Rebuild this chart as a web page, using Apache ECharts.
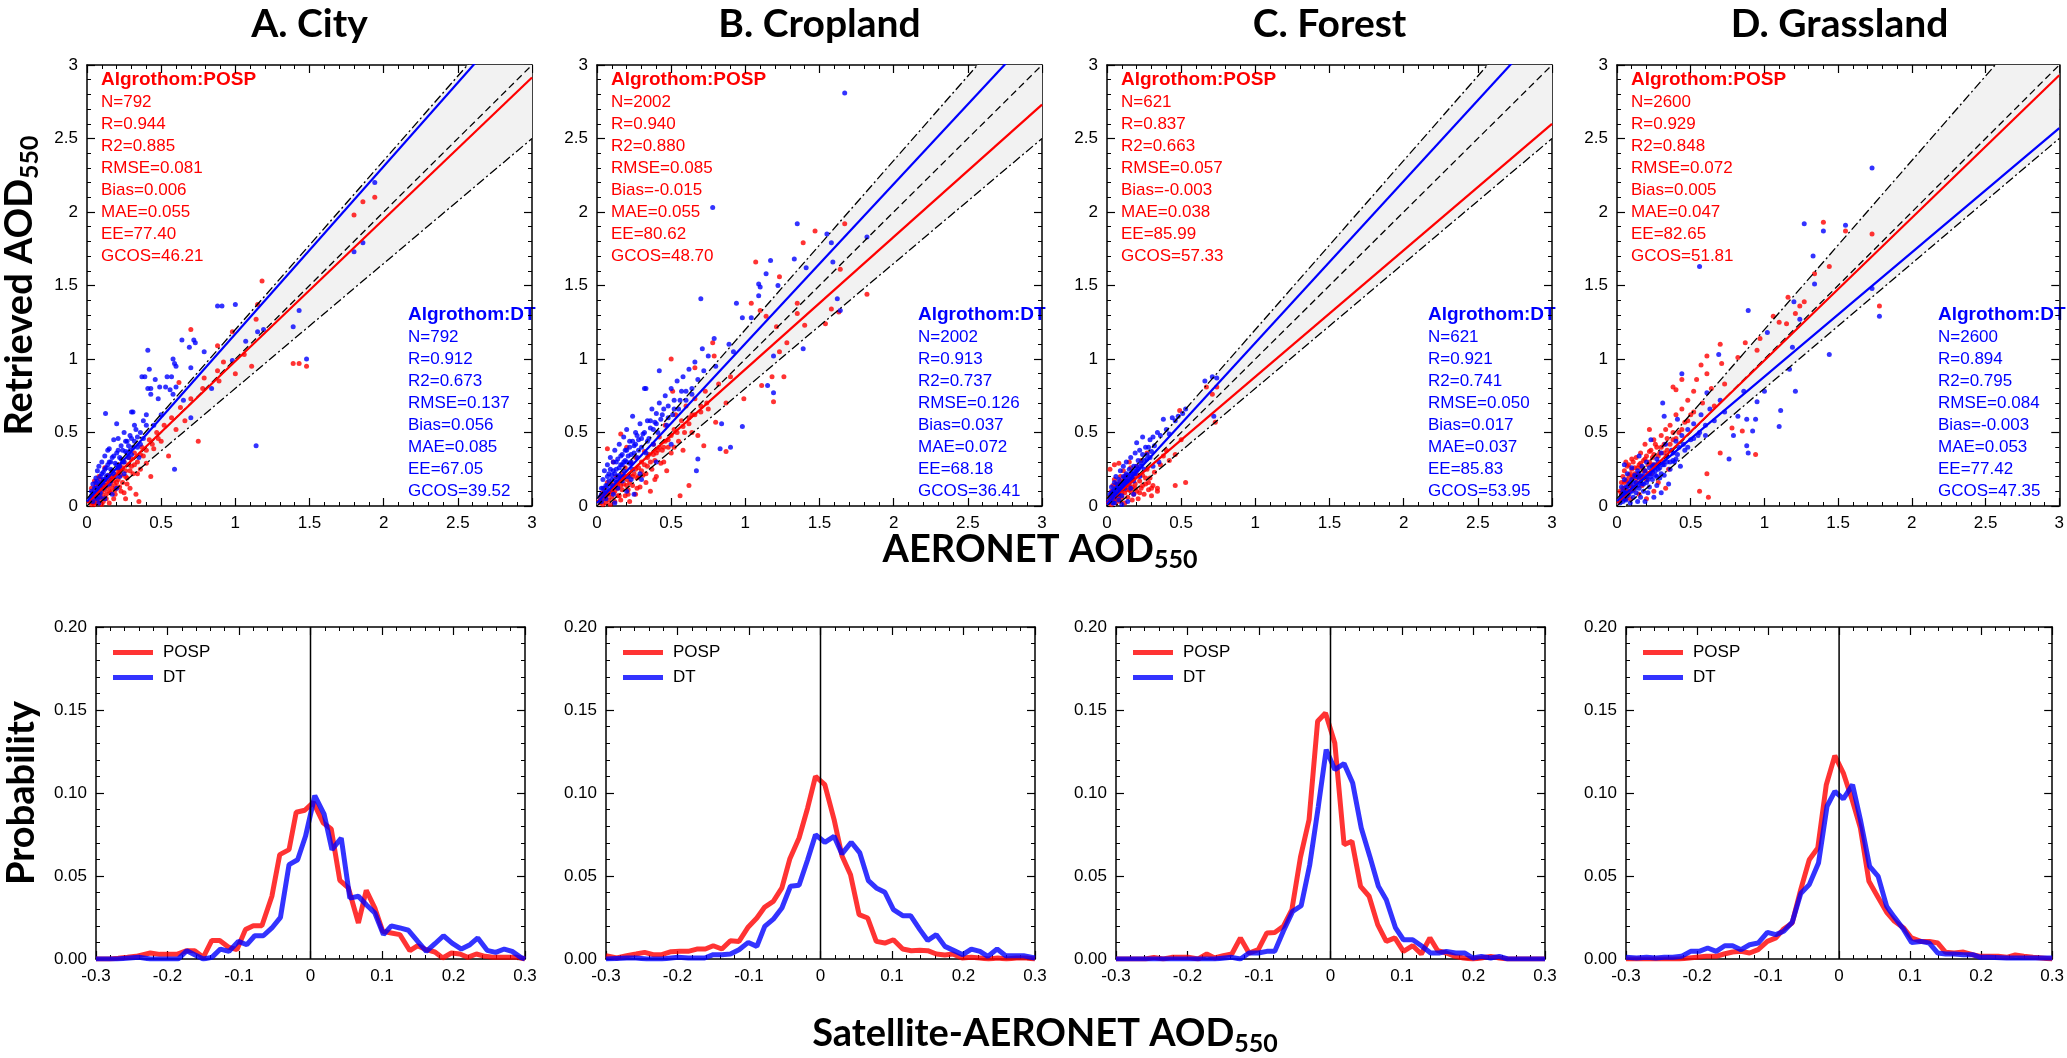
<!DOCTYPE html>
<html>
<head>
<meta charset="utf-8">
<script src="https://cdn.jsdelivr.net/npm/echarts@6.0.0/dist/echarts.min.js"></script>
<style>
  html, body { margin: 0; padding: 0; background: #fff; }
  #main { width: 2067px; height: 1058px; }
</style>
</head>
<body>
<div id="main"></div>
<script>
// ---- data ----
const panelTitles = ['A. City', 'B. Cropland', 'C. Forest', 'D. Grassland']
const statLabels = ['N', 'R', 'R2', 'RMSE', 'Bias', 'MAE', 'EE', 'GCOS']
const pospStats = [
  ['792', '0.944', '0.885', '0.081', '0.006', '0.055', '77.40', '46.21'],
  ['2002', '0.940', '0.880', '0.085', '-0.015', '0.055', '80.62', '48.70'],
  ['621', '0.837', '0.663', '0.057', '-0.003', '0.038', '85.99', '57.33'],
  ['2600', '0.929', '0.848', '0.072', '0.005', '0.047', '82.65', '51.81'],
]
const dtStats = [
  ['792', '0.912', '0.673', '0.137', '0.056', '0.085', '67.05', '39.52'],
  ['2002', '0.913', '0.737', '0.126', '0.037', '0.072', '68.18', '36.41'],
  ['621', '0.921', '0.741', '0.050', '0.017', '0.037', '85.83', '53.95'],
  ['2600', '0.894', '0.795', '0.084', '-0.003', '0.053', '77.42', '47.35'],
]
// regression lines: [slope, intercept]
const pospFit = [[0.965, 0.02], [0.90, 0.03], [0.86, 0.02], [0.97, 0.02]]
const dtFit = [[1.14, 0.03], [1.085, 0.02], [1.10, 0.01], [0.845, 0.035]]
// expected error envelope +-(0.05 + 0.15*AOD)
const eeAbs = 0.05
const eeRel = 0.15

const cityPosp = [[0.02,0.03],[0.03,0.01],[0.04,0.06],[0.05,0.03],[0.05,0.09],[0.06,0.05],[0.07,0.02],[0.07,0.11],[0.08,0.07],[0.09,0.04],[0.09,0.13],[0.10,0.09],[0.11,0.06],[0.11,0.15],[0.12,0.11],[0.13,0.08],[0.13,0.18],[0.14,0.13],[0.15,0.10],[0.15,0.21],[0.16,0.15],[0.17,0.12],[0.17,0.24],[0.18,0.17],[0.19,0.14],[0.19,0.08],[0.20,0.22],[0.21,0.18],[0.22,0.13],[0.22,0.28],[0.23,0.21],[0.24,0.16],[0.25,0.30],[0.25,0.09],[0.26,0.24],[0.27,0.19],[0.28,0.33],[0.29,0.12],[0.30,0.27],[0.31,0.22],[0.32,0.36],[0.33,0.08],[0.34,0.30],[0.35,0.03],[0.36,0.25],[0.37,0.40],[0.38,0.34],[0.40,0.29],[0.42,0.45],[0.43,0.20],[0.45,0.39],[0.47,0.50],[0.50,0.44],[0.52,0.55],[0.55,0.34],[0.57,0.60],[0.60,0.52],[0.63,0.67],[0.66,0.58],[0.70,0.73],[0.75,0.44],[0.78,0.80],[0.62,0.84],[0.70,1.20],[0.79,0.87],[0.88,0.92],[0.89,0.85],[0.92,0.98],[0.88,1.09],[0.98,1.185],[1.00,0.90],[1.06,1.03],[1.11,0.95],[1.14,1.27],[1.15,1.37],[1.18,1.53],[1.39,0.97],[1.43,0.97],[1.48,0.95],[1.80,1.98],[1.86,2.07],[1.94,2.10],[0.08,0.20],[0.05,0.17],[0.12,0.26],[0.03,0.12],[0.18,0.05],[0.15,0.02],[0.26,0.05],[0.10,0.01],
  [0.03,0.05],[0.04,0.02],[0.06,0.08],[0.08,0.10],[0.10,0.12],[0.12,0.14],[0.14,0.16],[0.16,0.18],[0.18,0.20],[0.20,0.16],[0.22,0.24],[0.24,0.26],[0.26,0.20],[0.28,0.28],[0.30,0.32],[0.06,0.14],[0.09,0.18],[0.11,0.03],[0.13,0.05],[0.16,0.09],[0.19,0.11],[0.21,0.25],[0.23,0.10],[0.27,0.15],[0.29,0.24],[0.32,0.28],[0.34,0.22],[0.36,0.35],[0.40,0.38],[0.44,0.42],[0.48,0.46],[0.05,0.01],[0.07,0.13],[0.14,0.20],[0.17,0.19]]
const cityDt = [[0.02,0.05],[0.03,0.10],[0.04,0.03],[0.04,0.15],[0.05,0.08],[0.06,0.19],[0.06,0.12],[0.07,0.05],[0.07,0.24],[0.08,0.14],[0.08,0.27],[0.09,0.09],[0.09,0.20],[0.10,0.16],[0.10,0.30],[0.11,0.12],[0.11,0.23],[0.12,0.18],[0.12,0.34],[0.125,0.63],[0.13,0.26],[0.13,0.14],[0.14,0.21],[0.14,0.38],[0.15,0.30],[0.15,0.39],[0.16,0.17],[0.16,0.25],[0.17,0.33],[0.18,0.22],[0.18,0.45],[0.19,0.29],[0.20,0.56],[0.20,0.36],[0.21,0.26],[0.21,0.46],[0.22,0.33],[0.23,0.41],[0.24,0.30],[0.25,0.50],[0.26,0.37],[0.27,0.44],[0.28,0.33],[0.29,0.48],[0.30,0.64],[0.31,0.40],[0.31,0.64],[0.32,0.55],[0.33,0.52],[0.34,0.47],[0.36,0.42],[0.37,0.88],[0.38,0.58],[0.39,0.88],[0.40,0.62],[0.41,1.06],[0.41,0.80],[0.42,0.93],[0.43,0.76],[0.43,0.80],[0.45,0.55],[0.46,0.86],[0.48,0.73],[0.49,0.81],[0.50,0.62],[0.53,0.81],[0.54,0.88],[0.56,0.79],[0.57,0.88],[0.58,0.76],[0.58,1.0],[0.59,0.25],[0.59,0.97],[0.60,0.95],[0.60,0.81],[0.64,1.13],[0.65,0.72],[0.69,1.08],[0.70,0.94],[0.70,0.60],[0.72,1.13],[0.73,1.11],[0.79,1.05],[0.84,0.80],[0.88,1.36],[0.91,1.36],[0.98,0.99],[1.0,1.37],[1.07,1.12],[1.14,0.41],[1.15,1.185],[1.19,1.20],[1.39,1.22],[1.43,1.33],[1.48,1.00],[1.80,1.73],[1.86,1.79],[1.94,2.20],[0.30,0.35],[0.25,0.22],[0.35,0.33],[0.20,0.12],[0.17,0.08],[0.12,0.05],[0.22,0.20],[0.08,0.02],
  [0.03,0.07],[0.05,0.12],[0.06,0.06],[0.07,0.17],[0.08,0.10],[0.09,0.15],[0.10,0.22],[0.11,0.18],[0.12,0.25],[0.13,0.20],[0.14,0.28],[0.15,0.15],[0.16,0.30],[0.17,0.24],[0.18,0.34],[0.19,0.20],[0.20,0.28],[0.21,0.38],[0.22,0.27],[0.23,0.32],[0.24,0.38],[0.25,0.30],[0.26,0.44],[0.27,0.36],[0.28,0.41],[0.29,0.38],[0.30,0.46],[0.32,0.44],[0.34,0.40],[0.36,0.50],[0.38,0.46],[0.40,0.55],[0.04,0.09],[0.06,0.16],[0.09,0.06]]
const croplandPosp = [[0.02,0.02],[0.03,0.07],[0.04,0.01],[0.05,0.05],[0.05,0.12],[0.06,0.02],[0.07,0.08],[0.07,0.16],[0.08,0.04],[0.09,0.10],[0.09,0.01],[0.10,0.06],[0.10,0.15],[0.11,0.09],[0.12,0.03],[0.12,0.13],[0.13,0.20],[0.14,0.07],[0.14,0.12],[0.15,0.17],[0.16,0.04],[0.16,0.49],[0.17,0.11],[0.17,0.22],[0.18,0.15],[0.19,0.07],[0.19,0.26],[0.20,0.18],[0.21,0.11],[0.22,0.21],[0.22,0.03],[0.23,0.29],[0.24,0.14],[0.25,0.22],[0.26,0.08],[0.26,0.33],[0.27,0.19],[0.28,0.26],[0.29,0.13],[0.30,0.30],[0.31,0.21],[0.32,0.37],[0.33,0.16],[0.34,0.27],[0.35,0.35],[0.36,0.10],[0.37,0.25],[0.38,0.42],[0.39,0.31],[0.40,0.20],[0.41,0.38],[0.42,0.47],[0.43,0.29],[0.45,0.40],[0.46,0.55],[0.47,0.24],[0.48,0.45],[0.50,0.36],[0.50,1.00],[0.51,0.78],[0.52,0.52],[0.53,0.62],[0.55,0.44],[0.56,0.07],[0.57,0.58],[0.59,0.50],[0.60,0.68],[0.62,0.14],[0.62,0.56],[0.64,0.62],[0.66,0.94],[0.66,0.73],[0.68,0.48],[0.70,0.64],[0.72,0.41],[0.73,0.78],[0.75,0.66],[0.78,1.11],[0.79,1.02],[0.80,0.57],[0.82,0.83],[0.87,0.70],[0.87,0.37],[0.90,0.88],[0.99,0.73],[1.04,1.38],[1.07,1.66],[1.10,1.33],[1.11,0.82],[1.14,1.29],[1.18,0.88],[1.19,0.71],[1.21,1.22],[1.23,1.56],[1.23,1.05],[1.26,0.88],[1.28,1.11],[1.35,1.38],[1.35,1.31],[1.39,1.79],[1.40,1.23],[1.47,1.87],[1.54,1.24],[1.58,1.34],[1.63,1.32],[1.64,1.61],[1.67,1.92],[1.82,1.44],[0.07,0.39],[0.11,0.30],[0.20,0.40],
  [0.03,0.04],[0.04,0.09],[0.06,0.06],[0.08,0.08],[0.10,0.10],[0.12,0.10],[0.14,0.15],[0.16,0.14],[0.18,0.19],[0.20,0.14],[0.22,0.16],[0.24,0.20],[0.26,0.25],[0.28,0.20],[0.30,0.24],[0.32,0.28],[0.34,0.33],[0.36,0.30],[0.38,0.35],[0.40,0.36],[0.42,0.40],[0.44,0.38],[0.46,0.44],[0.48,0.40],[0.50,0.48],[0.54,0.50],[0.58,0.54],[0.62,0.60],[0.66,0.62],[0.70,0.68],[0.74,0.70],[0.15,0.07],[0.21,0.08],[0.27,0.12],[0.33,0.22],[0.39,0.18],[0.45,0.30],[0.52,0.40],[0.58,0.38],[0.64,0.50]]
const croplandDt = [[0.02,0.06],[0.03,0.12],[0.03,0.03],[0.04,0.18],[0.05,0.09],[0.05,0.24],[0.06,0.14],[0.06,0.05],[0.07,0.20],[0.07,0.28],[0.08,0.11],[0.08,0.17],[0.09,0.25],[0.09,0.33],[0.10,0.14],[0.10,0.21],[0.11,0.30],[0.11,0.08],[0.12,0.18],[0.12,0.38],[0.13,0.25],[0.14,0.32],[0.14,0.12],[0.15,0.21],[0.15,0.42],[0.16,0.28],[0.17,0.35],[0.17,0.17],[0.18,0.24],[0.18,0.47],[0.19,0.31],[0.20,0.38],[0.20,0.52],[0.21,0.20],[0.22,0.29],[0.22,0.44],[0.23,0.35],[0.24,0.61],[0.24,0.25],[0.25,0.41],[0.26,0.50],[0.27,0.33],[0.28,0.45],[0.29,0.56],[0.29,0.22],[0.30,0.40],[0.31,0.49],[0.32,0.80],[0.33,0.80],[0.33,0.36],[0.34,0.58],[0.35,0.46],[0.36,0.53],[0.37,0.66],[0.38,0.42],[0.39,0.57],[0.40,0.63],[0.41,0.50],[0.42,0.92],[0.42,0.70],[0.43,0.59],[0.45,0.66],[0.46,0.75],[0.47,0.55],[0.48,0.68],[0.50,0.80],[0.51,0.62],[0.52,0.72],[0.54,0.85],[0.55,0.66],[0.57,0.78],[0.58,0.88],[0.60,0.72],[0.62,0.93],[0.64,0.80],[0.66,0.98],[0.67,0.24],[0.68,0.32],[0.68,0.86],[0.70,1.41],[0.71,1.07],[0.72,0.92],[0.75,1.02],[0.78,2.03],[0.79,1.14],[0.80,0.95],[0.83,0.39],[0.84,0.56],[0.89,1.10],[0.90,0.40],[0.92,1.05],[0.94,1.38],[0.98,0.54],[0.98,1.28],[1.04,1.28],[1.09,1.43],[1.09,1.51],[1.10,1.49],[1.14,1.58],[1.15,0.82],[1.17,1.67],[1.19,1.02],[1.19,0.77],[1.22,1.50],[1.33,1.68],[1.35,1.92],[1.39,1.07],[1.41,1.62],[1.55,1.85],[1.58,1.79],[1.59,1.66],[1.62,1.41],[1.64,1.33],[1.67,2.81],[1.82,1.83],[0.20,0.10],[0.30,0.18],[0.40,0.30],[0.50,0.42],[0.12,0.02],[0.25,0.08],
  [0.03,0.08],[0.04,0.12],[0.06,0.10],[0.07,0.14],[0.08,0.22],[0.10,0.18],[0.11,0.24],[0.12,0.22],[0.13,0.30],[0.14,0.20],[0.15,0.26],[0.16,0.34],[0.17,0.28],[0.18,0.30],[0.19,0.38],[0.20,0.30],[0.21,0.34],[0.22,0.40],[0.23,0.30],[0.24,0.44],[0.25,0.36],[0.26,0.42],[0.27,0.48],[0.28,0.38],[0.30,0.46],[0.32,0.50],[0.34,0.44],[0.36,0.58],[0.38,0.52],[0.40,0.56],[0.44,0.62],[0.48,0.60],[0.52,0.66],[0.56,0.72],[0.60,0.78],[0.64,0.76],[0.13,0.16],[0.19,0.20],[0.23,0.18]]
const forestPosp = [[0.01,0.02],[0.02,0.06],[0.02,0.25],[0.03,0.01],[0.03,0.10],[0.04,0.04],[0.04,0.14],[0.05,0.07],[0.05,0.18],[0.06,0.02],[0.06,0.11],[0.07,0.05],[0.07,0.15],[0.08,0.29],[0.08,0.09],[0.09,0.03],[0.09,0.20],[0.10,0.12],[0.10,0.06],[0.11,0.17],[0.11,0.24],[0.12,0.09],[0.12,0.02],[0.13,0.14],[0.13,0.21],[0.14,0.06],[0.15,0.11],[0.15,0.18],[0.16,0.26],[0.17,0.13],[0.17,0.04],[0.18,0.08],[0.18,0.20],[0.19,0.15],[0.20,0.10],[0.20,0.27],[0.21,0.05],[0.22,0.17],[0.23,0.31],[0.23,0.12],[0.24,0.21],[0.25,0.08],[0.26,0.15],[0.27,0.25],[0.28,0.11],[0.29,0.19],[0.30,0.07],[0.31,0.14],[0.32,0.23],[0.34,0.10],[0.34,0.12],[0.36,0.28],[0.38,0.34],[0.40,0.38],[0.42,0.31],[0.46,0.35],[0.46,0.14],[0.49,0.65],[0.50,0.45],[0.53,0.16],[0.67,0.81],[0.71,0.76],[0.73,0.57],[0.74,0.81],[0.27,0.36],[0.05,0.28],[0.15,0.30],
  [0.02,0.04],[0.03,0.07],[0.04,0.09],[0.05,0.04],[0.06,0.08],[0.07,0.12],[0.08,0.06],[0.09,0.11],[0.10,0.09],[0.11,0.13],[0.12,0.15],[0.13,0.11],[0.14,0.17],[0.15,0.14],[0.16,0.10],[0.17,0.18],[0.19,0.12],[0.21,0.21],[0.22,0.09],[0.24,0.14],[0.26,0.19],[0.28,0.16],[0.30,0.12],[0.06,0.15],[0.09,0.17],[0.12,0.20]]
const forestDt = [[0.01,0.03],[0.02,0.08],[0.03,0.05],[0.03,0.13],[0.04,0.02],[0.04,0.10],[0.05,0.16],[0.05,0.06],[0.06,0.12],[0.06,0.20],[0.07,0.08],[0.07,0.15],[0.08,0.04],[0.08,0.18],[0.09,0.11],[0.09,0.24],[0.10,0.15],[0.10,0.07],[0.11,0.20],[0.11,0.27],[0.12,0.12],[0.12,0.17],[0.13,0.22],[0.13,0.30],[0.14,0.15],[0.14,0.03],[0.15,0.25],[0.15,0.19],[0.16,0.33],[0.16,0.12],[0.17,0.22],[0.18,0.27],[0.18,0.17],[0.19,0.36],[0.20,0.43],[0.20,0.24],[0.21,0.31],[0.22,0.20],[0.22,0.38],[0.23,0.29],[0.24,0.47],[0.24,0.35],[0.25,0.25],[0.26,0.40],[0.27,0.32],[0.28,0.40],[0.29,0.45],[0.30,0.37],[0.31,0.47],[0.31,0.27],[0.32,0.41],[0.34,0.50],[0.35,0.30],[0.36,0.48],[0.38,0.59],[0.40,0.52],[0.42,0.49],[0.44,0.60],[0.46,0.58],[0.48,0.61],[0.51,0.63],[0.53,0.66],[0.66,0.85],[0.71,0.88],[0.72,0.61],[0.74,0.87],[0.10,0.01],[0.18,0.08],
  [0.02,0.05],[0.03,0.09],[0.04,0.07],[0.05,0.11],[0.06,0.09],[0.07,0.12],[0.08,0.13],[0.09,0.15],[0.10,0.12],[0.11,0.16],[0.12,0.19],[0.13,0.17],[0.14,0.21],[0.15,0.16],[0.16,0.22],[0.17,0.19],[0.18,0.24],[0.19,0.22],[0.20,0.27],[0.21,0.25],[0.23,0.27],[0.25,0.31],[0.27,0.35],[0.29,0.33],[0.05,0.02],[0.08,0.08]]
const grasslandPosp = [[0.02,0.04],[0.02,0.10],[0.03,0.16],[0.04,0.07],[0.04,0.20],[0.05,0.12],[0.05,0.24],[0.06,0.05],[0.06,0.17],[0.07,0.27],[0.07,0.10],[0.08,0.21],[0.08,0.28],[0.09,0.14],[0.09,0.05],[0.10,0.25],[0.10,0.19],[0.11,0.30],[0.11,0.11],[0.12,0.22],[0.13,0.16],[0.13,0.33],[0.14,0.26],[0.15,0.08],[0.15,0.20],[0.16,0.36],[0.16,0.29],[0.17,0.14],[0.18,0.24],[0.19,0.42],[0.19,0.32],[0.20,0.18],[0.21,0.28],[0.22,0.52],[0.22,0.37],[0.23,0.22],[0.24,0.33],[0.25,0.45],[0.26,0.28],[0.27,0.40],[0.28,0.16],[0.29,0.36],[0.30,0.48],[0.31,0.30],[0.32,0.42],[0.33,0.52],[0.34,0.38],[0.35,0.25],[0.36,0.55],[0.38,0.45],[0.38,0.81],[0.40,0.79],[0.40,0.62],[0.42,0.50],[0.44,0.86],[0.44,0.66],[0.46,0.57],[0.48,0.72],[0.50,0.62],[0.52,0.78],[0.54,0.86],[0.56,0.10],[0.57,0.96],[0.58,0.70],[0.61,1.02],[0.61,0.90],[0.61,0.22],[0.62,0.06],[0.64,0.80],[0.66,0.68],[0.70,1.10],[0.70,0.36],[0.71,0.97],[0.73,0.83],[0.78,0.53],[0.82,1.01],[0.85,0.51],[0.87,1.11],[0.94,0.35],[0.95,1.06],[0.97,1.14],[1.06,1.29],[1.10,1.25],[1.15,1.24],[1.16,1.42],[1.21,1.31],[1.24,1.36],[1.27,1.39],[1.34,1.58],[1.40,1.93],[1.44,1.63],[1.55,1.87],[1.73,1.85],[1.78,1.36],[0.33,0.12],[0.25,0.10],[0.20,0.05],
  [0.03,0.08],[0.04,0.12],[0.05,0.16],[0.06,0.10],[0.07,0.18],[0.08,0.14],[0.09,0.22],[0.10,0.13],[0.11,0.20],[0.12,0.26],[0.13,0.19],[0.14,0.22],[0.15,0.28],[0.16,0.20],[0.17,0.26],[0.18,0.31],[0.19,0.24],[0.20,0.34],[0.21,0.22],[0.22,0.30],[0.23,0.38],[0.24,0.28],[0.25,0.35],[0.26,0.42],[0.28,0.34],[0.30,0.40],[0.32,0.36],[0.34,0.46],[0.36,0.42],[0.38,0.50],[0.40,0.46],[0.44,0.52],[0.48,0.58],[0.52,0.64],[0.06,0.30],[0.10,0.32]]
const grasslandDt = [[0.02,0.02],[0.03,0.07],[0.03,0.13],[0.04,0.03],[0.05,0.09],[0.05,0.18],[0.06,0.04],[0.06,0.13],[0.07,0.22],[0.07,0.07],[0.08,0.15],[0.09,0.02],[0.09,0.10],[0.10,0.18],[0.10,0.26],[0.11,0.06],[0.11,0.13],[0.12,0.21],[0.13,0.09],[0.13,0.16],[0.14,0.03],[0.14,0.24],[0.15,0.12],[0.15,0.19],[0.16,0.06],[0.17,0.15],[0.17,0.27],[0.18,0.10],[0.18,0.21],[0.19,0.03],[0.20,0.16],[0.20,0.30],[0.21,0.09],[0.22,0.22],[0.22,0.13],[0.23,0.45],[0.24,0.18],[0.24,0.27],[0.25,0.06],[0.26,0.21],[0.27,0.32],[0.27,0.14],[0.28,0.25],[0.29,0.19],[0.30,0.36],[0.30,0.09],[0.31,0.28],[0.32,0.21],[0.32,0.61],[0.33,0.42],[0.34,0.30],[0.35,0.15],[0.36,0.25],[0.37,0.38],[0.38,0.31],[0.39,0.30],[0.40,0.44],[0.41,0.59],[0.41,0.35],[0.43,0.27],[0.44,0.90],[0.44,0.48],[0.46,0.38],[0.48,0.52],[0.50,0.45],[0.52,0.56],[0.55,0.48],[0.56,1.63],[0.57,0.62],[0.60,0.55],[0.61,0.77],[0.63,0.66],[0.66,0.58],[0.69,1.03],[0.70,0.72],[0.73,0.64],[0.76,0.32],[0.79,0.48],[0.82,0.61],[0.86,0.78],[0.88,0.59],[0.88,0.41],[0.89,0.36],[0.89,1.33],[0.92,0.51],[0.94,0.59],[0.95,0.71],[1.0,0.78],[1.02,1.18],[1.10,0.54],[1.11,0.65],[1.17,0.93],[1.19,1.08],[1.20,1.39],[1.21,0.78],[1.24,1.27],[1.27,1.92],[1.33,1.70],[1.34,1.51],[1.40,1.87],[1.44,1.03],[1.55,1.91],[1.73,2.30],[1.73,1.48],[1.78,1.29],[0.31,0.70],[0.15,0.34],[0.05,0.28],
  [0.03,0.05],[0.04,0.10],[0.05,0.05],[0.06,0.09],[0.07,0.13],[0.08,0.08],[0.09,0.16],[0.10,0.10],[0.11,0.16],[0.12,0.12],[0.13,0.20],[0.14,0.14],[0.15,0.22],[0.16,0.16],[0.17,0.20],[0.18,0.15],[0.19,0.24],[0.20,0.20],[0.21,0.18],[0.22,0.26],[0.23,0.20],[0.24,0.23],[0.25,0.28],[0.26,0.24],[0.27,0.20],[0.28,0.30],[0.29,0.26],[0.30,0.22],[0.32,0.28],[0.34,0.34],[0.36,0.30],[0.38,0.36],[0.40,0.32],[0.42,0.40],[0.45,0.42],[0.48,0.40],[0.52,0.46],[0.56,0.50],[0.60,0.48]]

// probability distributions of Satellite - AERONET
const cityPospHist = [[-0.3,0],[-0.281,0],[-0.269,0.0004],[-0.256,0.001],[-0.244,0.0016],[-0.224,0.0036],[-0.211,0.0028],[-0.187,0.0028],[-0.173,0.005],[-0.162,0.005],[-0.150,0.001],[-0.138,0.0112],[-0.127,0.0112],[-0.115,0.0072],[-0.103,0.0056],[-0.091,0.0177],[-0.080,0.020],[-0.068,0.020],[-0.054,0.0378],[-0.043,0.0629],[-0.030,0.0659],[-0.020,0.0884],[-0.008,0.0896],[0.004,0.0944],[0.018,0.0819],[0.029,0.0783],[0.041,0.0474],[0.053,0.0428],[0.067,0.0217],[0.078,0.0414],[0.090,0.0307],[0.101,0.0167],[0.113,0.0157],[0.125,0.0147],[0.139,0.005],[0.150,0.008],[0.162,0.0056],[0.174,0.0042],[0.185,0.0006],[0.197,0.0036],[0.209,0.003],[0.220,0.001],[0.232,0.003],[0.244,0.0016],[0.255,0.001],[0.267,0.001],[0.279,0.001],[0.290,0.001],[0.3,0]]
const cityDtHist = [[-0.3,0],[-0.271,0],[-0.24,0.001],[-0.224,0],[-0.185,0],[-0.173,0.005],[-0.162,0.0026],[-0.150,0],[-0.138,0.001],[-0.126,0.006],[-0.114,0.0046],[-0.101,0.0106],[-0.089,0.0086],[-0.078,0.014],[-0.066,0.014],[-0.054,0.0187],[-0.042,0.0251],[-0.030,0.0568],[-0.018,0.0598],[-0.007,0.0739],[0.006,0.0984],[0.019,0.0873],[0.030,0.0659],[0.043,0.0729],[0.055,0.0367],[0.067,0.0378],[0.078,0.0327],[0.090,0.0277],[0.102,0.0147],[0.113,0.020],[0.125,0.0187],[0.137,0.0173],[0.150,0.0106],[0.162,0.0046],[0.174,0.0092],[0.186,0.014],[0.198,0.0096],[0.211,0.006],[0.223,0.0086],[0.234,0.0127],[0.247,0.0052],[0.259,0.004],[0.271,0.006],[0.282,0.0046],[0.294,0.001],[0.3,0]]
const croplandPospHist = [[-0.3,0.002],[-0.285,0.0006],[-0.271,0.002],[-0.258,0.003],[-0.246,0.004],[-0.234,0.0026],[-0.222,0.0026],[-0.209,0.0044],[-0.197,0.0046],[-0.185,0.0046],[-0.173,0.006],[-0.161,0.006],[-0.150,0.008],[-0.138,0.006],[-0.126,0.011],[-0.114,0.0106],[-0.101,0.0193],[-0.089,0.0247],[-0.078,0.0313],[-0.066,0.0347],[-0.054,0.0428],[-0.043,0.0602],[-0.030,0.0729],[-0.018,0.091],[-0.007,0.110],[0.006,0.105],[0.019,0.084],[0.030,0.0622],[0.042,0.0508],[0.054,0.0267],[0.066,0.0247],[0.078,0.0106],[0.090,0.0096],[0.102,0.0116],[0.115,0.006],[0.127,0.005],[0.139,0.0052],[0.150,0.005],[0.162,0.003],[0.174,0.0024],[0.185,0.003],[0.198,0.0006],[0.211,0.001],[0.223,0.0006],[0.235,0],[0.248,0.0006],[0.260,0],[0.274,0.0006],[0.288,0.0006],[0.3,0]]
const croplandDtHist = [[-0.3,0],[-0.271,0.0006],[-0.258,0.0006],[-0.243,0],[-0.222,0],[-0.199,0.001],[-0.185,0.0006],[-0.162,0.0006],[-0.150,0.0026],[-0.138,0.0026],[-0.126,0.003],[-0.114,0.0056],[-0.101,0.010],[-0.089,0.0076],[-0.078,0.0197],[-0.066,0.024],[-0.054,0.0307],[-0.042,0.0438],[-0.030,0.0444],[-0.018,0.0598],[-0.007,0.0749],[0.006,0.0703],[0.019,0.0739],[0.030,0.0633],[0.043,0.0703],[0.055,0.0639],[0.067,0.0472],[0.078,0.0428],[0.090,0.0402],[0.102,0.0297],[0.115,0.0261],[0.126,0.0261],[0.139,0.0177],[0.150,0.0112],[0.162,0.0147],[0.174,0.0076],[0.186,0.0052],[0.199,0.0026],[0.211,0.006],[0.223,0.0046],[0.234,0.0016],[0.247,0.006],[0.259,0.002],[0.271,0.002],[0.284,0.002],[0.3,0.0006]]
const forestPospHist = [[-0.3,0],[-0.259,0],[-0.247,0.001],[-0.234,0],[-0.222,0.001],[-0.199,0.001],[-0.185,0],[-0.173,0.003],[-0.162,0.0006],[-0.150,0.002],[-0.138,0.003],[-0.126,0.0127],[-0.114,0.0036],[-0.101,0.0056],[-0.089,0.0157],[-0.078,0.016],[-0.066,0.0197],[-0.054,0.0297],[-0.042,0.0614],[-0.030,0.0839],[-0.018,0.1432],[-0.007,0.1482],[0.006,0.1301],[0.019,0.0689],[0.030,0.0709],[0.042,0.0438],[0.054,0.0378],[0.066,0.0207],[0.078,0.0106],[0.090,0.0127],[0.102,0.0046],[0.115,0.008],[0.127,0.003],[0.139,0.0127],[0.150,0.005],[0.162,0.0036],[0.174,0.0016],[0.186,0.0006],[0.199,0],[0.211,0.0006],[0.224,0.0016],[0.236,0.0006],[0.248,0],[0.3,0]]
const forestDtHist = [[-0.3,0],[-0.162,0],[-0.138,0.001],[-0.126,0],[-0.114,0.0036],[-0.101,0.0036],[-0.089,0.0046],[-0.078,0.0046],[-0.066,0.0167],[-0.053,0.0287],[-0.041,0.0321],[-0.029,0.0568],[-0.017,0.092],[-0.006,0.1261],[0.006,0.1141],[0.019,0.1177],[0.031,0.106],[0.043,0.0789],[0.055,0.0618],[0.067,0.0438],[0.078,0.0357],[0.091,0.0187],[0.102,0.0116],[0.115,0.0116],[0.127,0.008],[0.140,0.0036],[0.152,0.0036],[0.162,0.0046],[0.175,0.0036],[0.188,0.0036],[0.199,0.0006],[0.211,0.0016],[0.224,0.0006],[0.236,0.0016],[0.248,0],[0.3,0]]
const grasslandPospHist = [[-0.3,0],[-0.225,0],[-0.211,0.0006],[-0.187,0.0016],[-0.173,0.0016],[-0.162,0.003],[-0.150,0.0042],[-0.138,0.0046],[-0.126,0.0036],[-0.114,0.0056],[-0.101,0.0106],[-0.089,0.0127],[-0.078,0.0181],[-0.066,0.0217],[-0.054,0.0418],[-0.042,0.0598],[-0.030,0.0669],[-0.018,0.105],[-0.006,0.1225],[0.006,0.112],[0.019,0.095],[0.030,0.0789],[0.042,0.0468],[0.054,0.0378],[0.067,0.0281],[0.078,0.0227],[0.091,0.0187],[0.102,0.0127],[0.115,0.0106],[0.127,0.0106],[0.139,0.0096],[0.150,0.004],[0.162,0.0036],[0.175,0.0042],[0.188,0.0026],[0.199,0.0016],[0.211,0.0016],[0.224,0.0016],[0.236,0.001],[0.248,0.0024],[0.260,0.0016],[0.273,0.001],[0.285,0.0006],[0.3,0]]
const grasslandDtHist = [[-0.3,0.001],[-0.285,0.0006],[-0.271,0.001],[-0.258,0.0006],[-0.246,0.001],[-0.234,0.001],[-0.222,0.0016],[-0.209,0.0046],[-0.197,0.0046],[-0.185,0.0066],[-0.173,0.0046],[-0.161,0.008],[-0.150,0.008],[-0.138,0.0056],[-0.126,0.0086],[-0.114,0.0096],[-0.101,0.016],[-0.089,0.0147],[-0.078,0.0167],[-0.066,0.0221],[-0.054,0.0394],[-0.042,0.0448],[-0.029,0.0578],[-0.017,0.092],[-0.006,0.101],[0.006,0.0964],[0.019,0.105],[0.030,0.0839],[0.043,0.0558],[0.055,0.0498],[0.067,0.0317],[0.078,0.0251],[0.091,0.0177],[0.102,0.010],[0.115,0.0106],[0.127,0.0096],[0.139,0.0036],[0.150,0.003],[0.162,0.003],[0.175,0.0026],[0.188,0.0026],[0.199,0.001],[0.211,0.001],[0.236,0.0006],[0.3,0.0006]]

const pospPoints = [cityPosp, croplandPosp, forestPosp, grasslandPosp]
const dtPoints = [cityDt, croplandDt, forestDt, grasslandDt]
const pospHist = [cityPospHist, croplandPospHist, forestPospHist, grasslandPospHist]
const dtHist = [cityDtHist, croplandDtHist, forestDtHist, grasslandDtHist]

// ---- layout ----
const topLefts = [87, 597, 1107, 1617]
const topW = 445
const topTop = 65
const topH = 441
const botLefts = [96, 606, 1116, 1626]
const botW = 429
const botTop = 627
const botH = 332

const RED = '#ff0000'
const BLUE = '#0000ff'
const tickFont = { fontSize: 17, color: '#000', fontFamily: 'Liberation Sans, Arial' }

const chart = echarts.init(document.getElementById('main'))

const grids = []
const xAxes = []
const yAxes = []
const series = []
const graphics = []

function axisPair(list, gridIndex, min, max, interval, positions, labelFmt) {
  positions.forEach((pos, k) => {
    list.push({
      type: 'value', gridIndex, position: pos, min, max, interval,
      axisLine: { show: true, onZero: false, lineStyle: { color: '#000', width: 1.5 } },
      axisTick: { show: true, inside: true, length: 8, lineStyle: { color: '#000', width: 1.2 } },
      minorTick: { show: true, splitNumber: 5, length: 4, lineStyle: { color: '#000', width: 1 } },
      splitLine: { show: false },
      axisLabel: k === 0 ? Object.assign({ show: true, margin: 9, formatter: labelFmt }, tickFont) : { show: false },
    })
  })
}

function lineSeries(gi, data, style) {
  return {
    type: 'line', xAxisIndex: gi * 2, yAxisIndex: gi * 2, data,
    symbol: 'none', silent: true, animation: false, z: 5,
    lineStyle: style,
  }
}

for (let i = 0; i < 4; i++) {
  // scatter panel
  const g = i
  grids.push({ left: topLefts[i], top: topTop, width: topW, height: topH, containLabel: false })
  axisPair(xAxes, g, 0, 3, 0.5, ['bottom', 'top'], v => String(v))
  axisPair(yAxes, g, 0, 3, 0.5, ['left', 'right'], v => String(v))

  // EE band
  series.push({
    type: 'custom', xAxisIndex: g * 2, yAxisIndex: g * 2, silent: true, z: 1,
    data: [[0, 0]],
    renderItem: (params, api) => {
      const poly = [[0, eeAbs], [0, -eeAbs], [3, 3 - eeAbs - eeRel * 3], [3, 3 + eeAbs + eeRel * 3]]
      const cs = params.coordSys
      return {
        type: 'polygon',
        shape: { points: poly.map(p => api.coord(p)) },
        style: { fill: '#f2f2f2' },
        clipPath: { type: 'rect', shape: { x: cs.x, y: cs.y, width: cs.width, height: cs.height } },
      }
    },
  })
  series.push({
    type: 'scatter', name: 'POSP points', xAxisIndex: g * 2, yAxisIndex: g * 2,
    data: pospPoints[i], symbolSize: 5, itemStyle: { color: RED }, z: 3, animation: false,
  })
  series.push({
    type: 'scatter', name: 'DT points', xAxisIndex: g * 2, yAxisIndex: g * 2,
    data: dtPoints[i], symbolSize: 5, itemStyle: { color: BLUE }, z: 3, animation: false,
  })
  const dashDot = { color: '#000', width: 1.3, type: [9, 3, 2, 3] }
  series.push(lineSeries(g, [[0, eeAbs], [3, 3 + eeAbs + eeRel * 3]], dashDot))
  series.push(lineSeries(g, [[0, -eeAbs], [3, 3 - eeAbs - eeRel * 3]], dashDot))
  series.push(lineSeries(g, [[0, 0], [3, 3]], { color: '#000', width: 1.3, type: [7, 4] }))
  series.push(lineSeries(g, [[0, pospFit[i][1]], [3, pospFit[i][1] + 3 * pospFit[i][0]]], { color: RED, width: 2.2 }))
  series.push(lineSeries(g, [[0, dtFit[i][1]], [3, dtFit[i][1] + 3 * dtFit[i][0]]], { color: BLUE, width: 2.2 }))

  // panel title
  graphics.push({
    type: 'text', x: topLefts[i] + topW / 2, y: 24,
    style: { text: panelTitles[i], fill: '#000', font: 'bold 39px Lato', textAlign: 'center', textVerticalAlign: 'middle' },
  })
  // statistics blocks
  const blocks = [
    { x: topLefts[i] + 14, y: 80, head: 'Algrothom:POSP', vals: pospStats[i], color: RED },
    { x: topLefts[i] + 321, y: 315, head: 'Algrothom:DT', vals: dtStats[i], color: BLUE },
  ]
  blocks.forEach(b => {
    graphics.push({
      type: 'text', x: b.x, y: b.y,
      style: { text: b.head, fill: b.color, font: 'bold 19px "Liberation Sans"', textVerticalAlign: 'middle' },
    })
    statLabels.forEach((lab, k) => {
      graphics.push({
        type: 'text', x: b.x, y: b.y + 22 * (k + 1),
        style: { text: lab + '=' + b.vals[k], fill: b.color, font: '17px "Liberation Sans"', textVerticalAlign: 'middle' },
      })
    })
  })
}

for (let i = 0; i < 4; i++) {
  // probability panel
  const g = 4 + i
  grids.push({ left: botLefts[i], top: botTop, width: botW, height: botH, containLabel: false })
  axisPair(xAxes, g, -0.3, 0.3, 0.1, ['bottom', 'top'], v => String(+v.toFixed(1)))
  axisPair(yAxes, g, 0, 0.2, 0.05, ['left', 'right'], v => v.toFixed(2))

  series.push(lineSeries(g, [[0, 0], [0, 0.2]], { color: '#000', width: 1.5 }))
  series.push({
    type: 'line', name: 'POSP', xAxisIndex: g * 2, yAxisIndex: g * 2, data: pospHist[i],
    symbol: 'none', animation: false, z: 4,
    itemStyle: { color: 'rgba(255,0,0,0.8)' },
    lineStyle: { color: 'rgba(255,0,0,0.8)', width: 5 },
  })
  series.push({
    type: 'line', name: 'DT', xAxisIndex: g * 2, yAxisIndex: g * 2, data: dtHist[i],
    symbol: 'none', animation: false, z: 4,
    itemStyle: { color: 'rgba(0,0,255,0.8)' },
    lineStyle: { color: 'rgba(0,0,255,0.8)', width: 5 },
  })
}

const legends = botLefts.map(l => ({
  left: l + 12, top: 639, orient: 'vertical', data: ['POSP', 'DT'],
  icon: 'rect', itemWidth: 40, itemHeight: 5, itemGap: 8, selectedMode: false,
  textStyle: { fontSize: 17, color: '#000', fontFamily: 'Liberation Sans', padding: [0, 0, 0, 5] },
}))

// axis titles
const bigFont = 'bold 38px Lato'
const subRich = {
  a: { font: bigFont, fill: '#000' },
  s: { font: 'bold 25px Lato', fill: '#000', padding: [20, 0, 0, 0] },
}
graphics.push({
  type: 'text', x: 20, y: topTop + topH / 2, rotation: Math.PI / 2,
  style: { text: '{a|Retrieved AOD}{s|550}', rich: subRich, textAlign: 'center', textVerticalAlign: 'middle' },
})
graphics.push({
  type: 'text', x: 22, y: botTop + botH / 2, rotation: Math.PI / 2,
  style: { text: 'Probability', font: bigFont, fill: '#000', textAlign: 'center', textVerticalAlign: 'middle' },
})
graphics.push({
  type: 'text', x: 1040, y: 550,
  style: { text: '{a|AERONET AOD}{s|550}', rich: subRich, textAlign: 'center', textVerticalAlign: 'middle' },
})
graphics.push({
  type: 'text', x: 1045, y: 1034,
  style: { text: '{a|Satellite-AERONET AOD}{s|550}', rich: subRich, textAlign: 'center', textVerticalAlign: 'middle' },
})

chart.setOption({
  animation: false,
  backgroundColor: '#fff',
  grid: grids,
  xAxis: xAxes,
  yAxis: yAxes,
  legend: legends,
  series,
  graphic: graphics,
})
</script>
</body>
</html>
